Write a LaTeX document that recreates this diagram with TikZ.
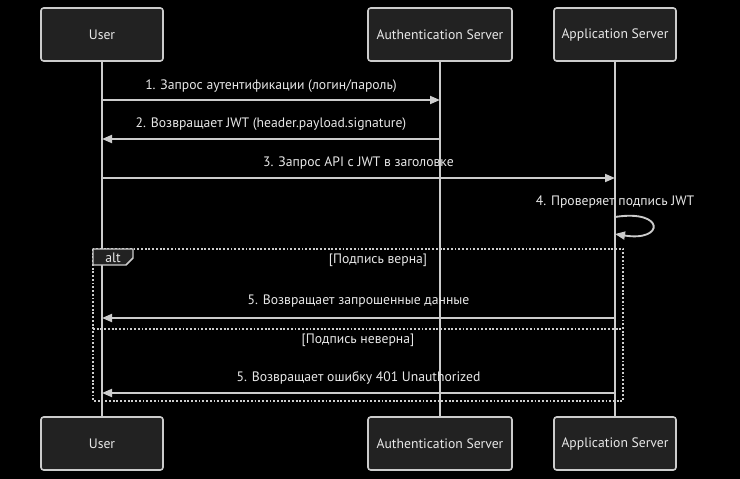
\documentclass[tikz,border=0pt]{standalone}
\usepackage{fontspec}
\setmainfont{PT Sans}
\usetikzlibrary{arrows.meta}
\definecolor{bg}{HTML}{000000}
\definecolor{boxfill}{HTML}{222222}
\definecolor{ln}{HTML}{CCCCCC}
\definecolor{tx}{HTML}{E8E8E8}
\begin{document}
\begin{tikzpicture}[x=0.75pt,y=-0.75pt,
  actor/.style={draw=ln,fill=boxfill,line width=1.2pt,rounded corners=2pt,minimum width=91.5pt,minimum height=39.75pt,inner sep=0pt,text=tx,font=\fontsize{10.25pt}{12pt}\selectfont},
  life/.style={draw=ln,line width=1.1pt},
  msg/.style={draw=ln,line width=1.4pt,-{Triangle[length=7.5pt,width=6pt]}},
  lbl/.style={text=tx,font=\fontsize{10.25pt}{12pt}\selectfont,inner sep=0pt},
  frame/.style={draw=ln,line width=1.4pt,dash pattern=on 1.4pt off 1.4pt}]
\fill[bg] (0,0) rectangle (740,479);
\useasboundingbox (0,0) rectangle (740,479);
% actors
\node[actor] (ut) at (102,34.5) {User};
\node[actor,minimum width=108pt] (at) at (440,34.5) {Authentication Server};
\node[actor] (pt) at (615,34.5) {Application Server};
\node[actor] (ub) at (102,443.5) {User};
\node[actor,minimum width=108pt] (ab) at (440,443.5) {Authentication Server};
\node[actor] (pb) at (615,443.5) {Application Server};
% lifelines
\draw[life] (ut.south) -- (ub.north);
\draw[life] (at.south) -- (ab.north);
\draw[life] (pt.south) -- (pb.north);
% message anchors
\coordinate (u1) at (102,100); \coordinate (a1) at (440,100);
\coordinate (u2) at (102,139); \coordinate (a2) at (440,139);
\coordinate (u3) at (102,178); \coordinate (p3) at (615,178);
\coordinate (p4s) at (615,217); \coordinate (p4e) at (615,234);
\coordinate (u5) at (102,318); \coordinate (p5) at (615,318);
\coordinate (u6) at (102,393); \coordinate (p6) at (615,393);
% messages
\draw[msg] (u1) -- (a1);
\node[lbl] (m1) at (271,86) {1. Запрос аутентификации (логин/пароль)};
\draw[msg] (a2) -- (u2);
\node[lbl] (m2) at (271,124.5) {2. Возвращает JWT (header.payload.signature)};
\draw[msg] (u3) -- (p3);
\node[lbl] (m3) at (358.5,163) {3. Запрос API с JWT в заголовке};
\draw[msg] (p4s) .. controls (665,209) and (665,242) .. (p4e);
\node[lbl] (m4) at (615,202) {4. Проверяет подпись JWT};
% alt frame
\draw[frame] (93,249) rectangle (623,401);
\draw[draw=ln,fill=boxfill,line width=1.1pt] (93,249) -- (133,249) -- (133,258) -- (126,265) -- (93,265) -- cycle;
\node[lbl] (alt) at (113,257.5) {alt};
\node[lbl] (c1) at (378,260.5) {[Подпись верна]};
\draw[msg] (p5) -- (u5);
\node[lbl] (m5) at (358.5,301) {5. Возвращает запрошенные данные};
\draw[frame] (93,329) -- (623,329);
\node[lbl] (c2) at (358,340) {[Подпись неверна]};
\draw[msg] (p6) -- (u6);
\node[lbl] (m6) at (358.5,378) {5. Возвращает ошибку 401 Unauthorized};
\end{tikzpicture}
\end{document}
